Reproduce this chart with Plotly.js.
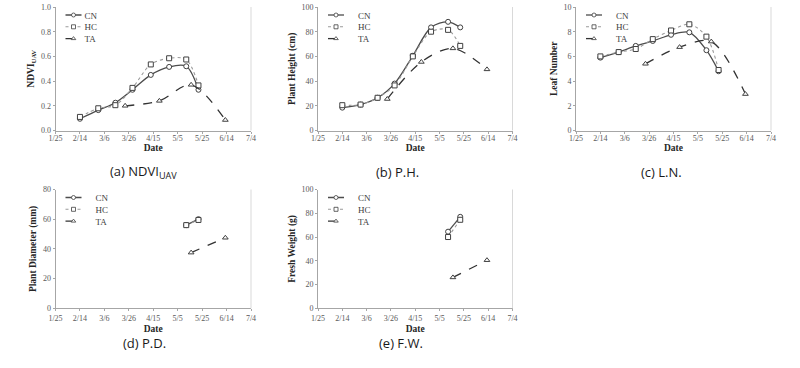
<!DOCTYPE html>
<html>
<head>
<meta charset="utf-8">
<script src="https://cdn.plot.ly/plotly-3.0.1.min.js"></script>
<style>html,body{margin:0;padding:0;background:#fff;}#chart{width:800px;height:368px;}</style>
</head>
<body>
<div id="chart"></div>
<script>
// ---- data ----
const groundDates = ['2019-02-14','2019-03-01','2019-03-15','2019-03-29','2019-04-13','2019-04-28','2019-05-12','2019-05-22'];
const taDates = ['2019-03-23','2019-04-20','2019-05-16','2019-06-13'];
const lateDates = ['2019-05-12','2019-05-22'];
const taLateDates = ['2019-05-16','2019-06-13'];

const ndviCN = [0.095, 0.165, 0.225, 0.33, 0.45, 0.515, 0.52, 0.33];
const ndviHC = [0.11, 0.18, 0.205, 0.345, 0.535, 0.585, 0.575, 0.365];
const ndviTA = [0.20, 0.24, 0.37, 0.085];

const phCN = [18.5, 21, 26.5, 38, 60.5, 83.5, 88, 83.5];
const phHC = [20.5, 21, 26.5, 36.5, 60, 80, 81.5, 68.5];
const phTA = [25.5, 55.5, 66.5, 49.5];

const lnCN = [5.9, 6.35, 6.85, 7.25, 7.75, 7.95, 6.5, 4.8];
const lnHC = [6.0, 6.35, 6.6, 7.4, 8.1, 8.6, 7.6, 4.9];
const lnTA = [5.4, 6.75, 7.2, 2.95];

const pdCN = [56, 60];
const pdHC = [56, 59.5];
const pdTA = [37.5, 47.5];

const fwCN = [64.5, 77];
const fwHC = [60, 74.5];
const fwTA = [26, 40.5];

const tickDates = ['2019-01-25','2019-02-14','2019-03-06','2019-03-26','2019-04-15','2019-05-05','2019-05-25','2019-06-14','2019-07-04'];
const tickLabels = ['1/25','2/14','3/6','3/26','4/15','5/5','5/25','6/14','7/4'];
const seriesNames = ['CN','HC','TA'];
const yTitles = ['NDVI<sub>UAV</sub>','Plant Height (cm)','Leaf Number','Plant Diameter (mm)','Fresh Weight (g)'];
const captions = ['(a) NDVI<sub>UAV</sub>','(b) P.H.','(c) L.N.','(d) P.D.','(e) F.W.'];
const yRanges = [[0,1],[0,100],[0,10],[0,80],[0,100]];
const yDticks = [0.2,20,2,20,20];
const yFormats = ['.1f','d','d','d','d'];

// ---- panels ----
const panels = [
  {cn:[groundDates, ndviCN], hc:[groundDates, ndviHC], ta:[taDates, ndviTA]},
  {cn:[groundDates, phCN], hc:[groundDates, phHC], ta:[taDates, phTA]},
  {cn:[groundDates, lnCN], hc:[groundDates, lnHC], ta:[taDates, lnTA]},
  {cn:[lateDates, pdCN], hc:[lateDates, pdHC], ta:[taLateDates, pdTA]},
  {cn:[lateDates, fwCN], hc:[lateDates, fwHC], ta:[taLateDates, fwTA]}
];

// layout geometry (pixels)
const W = 800, H = 368;
const colX = [[55.5,251],[318,512.5],[576,771]];
const rowY = [[7,130.5],[189.5,308.3]];
const cells = [[0,0],[1,0],[2,0],[0,1],[1,1]];
const captionX = [143.5, 397, 661, 144, 401];
const captionY = [172, 172, 172, 343, 343];

const serif = 'Liberation Serif, Times New Roman, serif';
const dark = '#404040';

const styles = {
  cn: {line:{color:'#4d4d4d', width:1.3, dash:'solid', shape:'spline', smoothing:0.9},
       marker:{symbol:'circle', size:5, color:'#fff', line:{color:dark, width:1}}},
  hc: {line:{color:'#9a9a9a', width:1.1, dash:'dot', shape:'spline', smoothing:0.9},
       marker:{symbol:'square', size:5, color:'#fff', line:{color:dark, width:1}}},
  ta: {line:{color:'#333333', width:1.3, dash:'dash', shape:'spline', smoothing:0.9},
       marker:{symbol:'triangle-up', size:5, color:'#fff', line:{color:dark, width:1}}}
};

const data = [];
const layout = {
  width: W, height: H,
  margin: {l:0, r:0, t:0, b:0},
  paper_bgcolor: '#fff', plot_bgcolor: '#fff',
  font: {family: serif, size: 8, color: '#404040'},
  annotations: [], shapes: []
};

panels.forEach((p, i) => {
  const n = i + 1;
  const xa = n === 1 ? 'x' : 'x' + n;
  const ya = n === 1 ? 'y' : 'y' + n;
  const lg = n === 1 ? 'legend' : 'legend' + n;
  ['cn','hc','ta'].forEach((k, j) => {
    data.push({
      type: 'scatter', mode: 'lines+markers',
      x: p[k][0], y: p[k][1], name: seriesNames[j],
      xaxis: xa, yaxis: ya, legend: lg,
      line: styles[k].line, marker: styles[k].marker,
      hoverinfo: 'x+y'
    });
  });
  const [c, r] = cells[i];
  const x0 = colX[c][0], x1 = colX[c][1];
  const yt = rowY[r][0], yb = rowY[r][1];
  const xKey = n === 1 ? 'xaxis' : 'xaxis' + n;
  const yKey = n === 1 ? 'yaxis' : 'yaxis' + n;
  layout[xKey] = {
    type: 'date', domain: [x0 / W, x1 / W], anchor: ya,
    range: [tickDates[0], tickDates[tickDates.length - 1]],
    tickmode: 'array', tickvals: tickDates, ticktext: tickLabels,
    showgrid: false, zeroline: false, showline: true, linecolor: '#a6a6a6', linewidth: 1,
    ticks: 'outside', ticklen: 2, tickcolor: '#a6a6a6',
    ticklabelstandoff: r === 0 ? -2 : 0,
    tickfont: {family: serif, size: 8, color: '#595959'},
    title: {text: '<b>Date</b>', font: {family: serif, size: 9.5, color: '#262626'}, standoff: r === 0 ? 0 : 3},
    automargin: false, fixedrange: true
  };
  layout[yKey] = {
    domain: [1 - yb / H, 1 - yt / H], anchor: xa,
    range: yRanges[i], dtick: yDticks[i], tickformat: yFormats[i],
    showgrid: false, zeroline: false, showline: true, linecolor: '#a6a6a6', linewidth: 1,
    ticks: 'outside', ticklen: 2, tickcolor: '#a6a6a6',
    tickfont: {family: serif, size: 8, color: '#595959'},
    title: {text: '<b>' + yTitles[i] + '</b>', font: {family: serif, size: 9.5, color: '#262626'}, standoff: 4},
    automargin: false, fixedrange: true
  };
  layout[lg] = {
    x: x0 / W, y: 1 - yt / H, xanchor: 'left', yanchor: 'top',
    bgcolor: 'rgba(0,0,0,0)', borderwidth: 0,
    font: {family: serif, size: 9, color: '#404040'},
    tracegroupgap: 0, itemwidth: 30
  };
  // light right border of plot area
  layout.shapes.push({type: 'line', xref: xa + ' domain', yref: ya + ' domain',
    x0: 1, x1: 1, y0: 0, y1: 1, line: {color: '#d9d9d9', width: 1}});
  // caption
  layout.annotations.push({
    text: captions[i], xref: 'paper', yref: 'paper',
    x: captionX[i] / W, y: 1 - captionY[i] / H,
    xanchor: 'center', yanchor: 'middle', showarrow: false,
    font: {family: 'Open Sans, Noto Sans, sans-serif', size: 13, color: '#1a1a1a'}
  });
});

// compact legend entries (Excel-like spacing)
function compactLegends() {
  const groupsList = document.querySelectorAll('#chart .infolayer .groups');
  groupsList.forEach(groups => {
    const legendG = groups.closest('g.scrollbox') ? groups.closest('g.scrollbox').parentNode : groups.parentNode;
    const m = /translate\(\s*([-\d.]+)[ ,]+([-\d.]+)/.exec(legendG.getAttribute('transform') || '');
    const ly = m ? parseFloat(m[2]) : 0;
    const items = groups.querySelectorAll('g.traces');
    items.forEach((it, idx) => {
      const rowCenter = ly + 8 + idx * 11.8;
      it.setAttribute('transform', 'translate(0,' + (rowCenter - ly) + ')');
      it.querySelectorAll('.legendlines path').forEach(pth => pth.setAttribute('d', 'M10,0h16'));
      it.querySelectorAll('.legendpoints path').forEach(pth => pth.setAttribute('transform', 'translate(18,0) scale(0.8)'));
      it.querySelectorAll('text.legendtext').forEach(t => {
        t.setAttribute('x', 29);
        t.querySelectorAll('tspan').forEach(ts => { if (ts.hasAttribute('x')) ts.setAttribute('x', 29); });
      });
      const tog = it.querySelector('rect.legendtoggle');
      if (tog) tog.setAttribute('height', 11);
    });
    const bg = legendG.querySelector('rect.bg');
    if (bg) bg.setAttribute('height', 40);
  });
}

Plotly.newPlot('chart', data, layout, {staticPlot: true, displayModeBar: false}).then(compactLegends);
</script>
</body>
</html>
